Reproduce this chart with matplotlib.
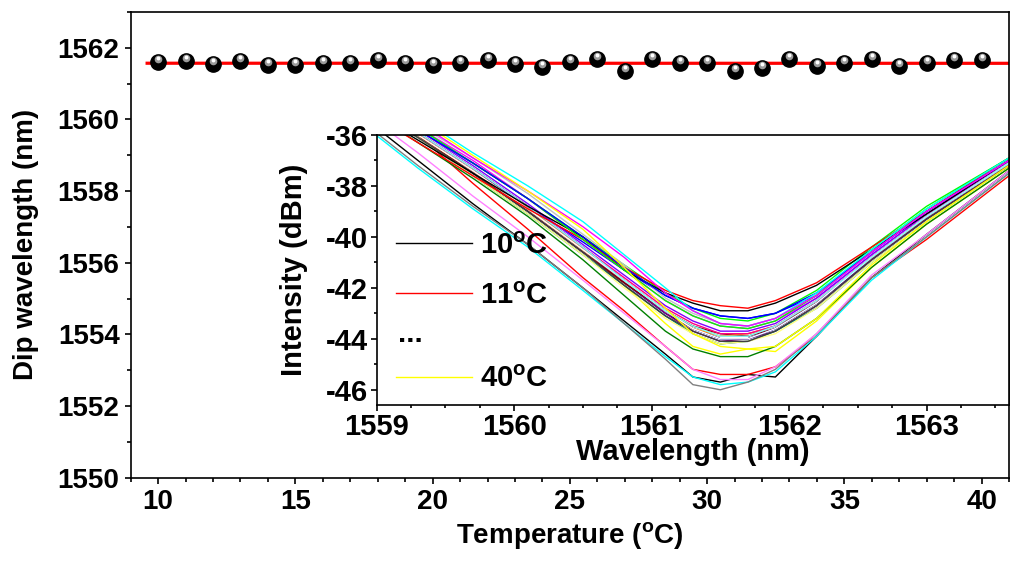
import matplotlib
matplotlib.use("Agg")
import matplotlib.pyplot as plt
import matplotlib.transforms as mtransforms
from matplotlib.lines import Line2D
from matplotlib.ticker import MultipleLocator
import numpy as np

plt.rcParams['font.family'] = ['Liberation Sans', 'DejaVu Sans']
plt.rcParams['font.weight'] = 'bold'
plt.rcParams['mathtext.fontset'] = 'custom'
plt.rcParams['mathtext.rm'] = 'Liberation Sans:bold'
plt.rcParams['mathtext.it'] = 'Liberation Sans:bold'
plt.rcParams['mathtext.bf'] = 'Liberation Sans:bold'
plt.rcParams['axes.unicode_minus'] = False

# dip wavelength vs temperature (main plot)
temps = list(range(10, 41))
dip_nm = [1561.61, 1561.62, 1561.54, 1561.63, 1561.51, 1561.52, 1561.57, 1561.57,
          1561.67, 1561.57, 1561.52, 1561.57, 1561.66, 1561.54, 1561.46, 1561.61,
          1561.68, 1561.36, 1561.68, 1561.57, 1561.57, 1561.36, 1561.45, 1561.68,
          1561.48, 1561.57, 1561.68, 1561.49, 1561.59, 1561.65, 1561.65]

# transmission spectra (inset), one row per temperature 10..40 C
wl = [1558.9, 1559.3, 1559.7, 1560.1, 1560.5, 1560.8, 1561.1, 1561.3,
      1561.5, 1561.7, 1561.9, 1562.2, 1562.6, 1563.0, 1563.6]
spectra_dbm = [
    [-35.3, -37.0, -38.7, -40.3, -42.0, -43.3, -44.6, -45.5, -45.7, -45.4, -45.5, -43.9, -41.6, -39.9, -37.4],  # 10
    [-34.8, -36.0, -37.9, -39.7, -41.6, -42.9, -44.3, -45.2, -45.4, -45.4, -45.1, -43.9, -41.6, -40.1, -37.6],  # 11
    [-34.5, -35.8, -37.1, -38.5, -40.0, -41.1, -42.2, -42.8, -43.2, -43.3, -43.0, -42.1, -40.4, -38.8, -36.9],  # 12
    [-34.7, -36.0, -37.4, -38.8, -40.2, -41.3, -42.3, -42.8, -43.1, -43.2, -43.0, -42.3, -40.6, -39.0, -37.0],  # 13
    [-35.6, -37.3, -38.9, -40.4, -42.1, -43.4, -44.7, -45.5, -45.8, -45.7, -45.3, -43.9, -41.7, -40.0, -37.5],  # 14
    [-34.4, -35.7, -37.0, -38.5, -40.1, -41.3, -42.5, -43.1, -43.5, -43.6, -43.3, -42.4, -40.7, -39.1, -37.1],  # 15
    [-34.6, -35.9, -37.3, -38.8, -40.5, -41.9, -43.4, -44.3, -44.6, -44.4, -44.5, -43.3, -41.2, -39.5, -37.3],  # 16
    [-34.7, -36.0, -37.4, -38.9, -40.5, -41.7, -42.9, -43.5, -43.9, -43.9, -43.5, -42.6, -40.8, -39.2, -37.1],  # 17
    [-34.8, -36.1, -37.5, -39.0, -40.6, -41.8, -43.0, -43.6, -44.0, -44.0, -43.6, -42.6, -40.9, -39.3, -37.2],  # 18
    [-34.6, -36.0, -37.4, -38.9, -40.5, -41.8, -43.0, -43.7, -44.1, -44.0, -43.7, -42.7, -40.9, -39.3, -37.2],  # 19
    [-34.7, -36.0, -37.5, -39.0, -40.6, -41.8, -42.9, -43.5, -43.8, -43.9, -43.6, -42.6, -40.8, -39.2, -37.1],  # 20
    [-34.9, -36.3, -37.7, -39.2, -40.9, -42.3, -43.7, -44.4, -44.7, -44.7, -44.3, -43.2, -41.2, -39.5, -37.3],  # 21
    [-34.8, -36.1, -37.6, -39.1, -40.7, -41.9, -43.1, -43.8, -44.2, -44.1, -43.7, -42.8, -41.0, -39.4, -37.2],  # 22
    [-34.6, -35.9, -37.3, -38.8, -40.4, -41.7, -42.9, -43.6, -44.0, -44.0, -43.6, -42.6, -40.8, -39.2, -37.1],  # 23
    [-34.7, -36.0, -37.4, -38.9, -40.5, -41.7, -42.9, -43.6, -43.9, -43.8, -43.5, -42.5, -40.8, -39.2, -37.1],  # 24
    [-34.5, -35.8, -37.2, -38.7, -40.3, -41.5, -42.7, -43.3, -43.7, -43.7, -43.4, -42.4, -40.7, -39.1, -37.0],  # 25
    [-34.6, -35.9, -37.3, -38.8, -40.4, -41.6, -42.8, -43.4, -43.8, -43.8, -43.5, -42.5, -40.8, -39.2, -37.1],  # 26
    [-34.7, -36.0, -37.4, -38.9, -40.5, -41.7, -42.9, -43.6, -44.0, -44.0, -43.6, -42.6, -40.8, -39.2, -37.1],  # 27
    [-34.3, -35.6, -36.9, -38.3, -39.9, -41.1, -42.4, -43.0, -43.4, -43.5, -43.2, -42.3, -40.6, -39.0, -37.0],  # 28
    [-35.5, -37.2, -38.8, -40.3, -42.0, -43.4, -44.8, -45.8, -46.0, -45.7, -45.2, -43.8, -41.6, -40.0, -37.5],  # 29
    [-34.8, -36.1, -37.6, -39.1, -40.7, -42.0, -43.2, -43.8, -44.2, -44.1, -43.8, -42.8, -41.0, -39.4, -37.2],  # 30
    [-34.6, -35.9, -37.3, -38.8, -40.4, -41.7, -42.9, -43.5, -43.9, -43.9, -43.5, -42.5, -40.8, -39.2, -37.1],  # 31
    [-35.1, -36.7, -38.4, -40.0, -41.7, -43.0, -44.3, -45.2, -45.6, -45.6, -45.1, -43.8, -41.5, -39.9, -37.4],  # 32
    [-34.8, -36.1, -37.5, -39.0, -40.6, -41.9, -43.1, -43.7, -44.1, -44.1, -43.7, -42.7, -40.9, -39.3, -37.2],  # 33
    [-34.9, -36.2, -37.5, -38.8, -40.0, -41.3, -42.2, -42.6, -42.9, -42.9, -42.6, -41.9, -40.5, -39.1, -37.0],  # 34
    [-35.0, -36.3, -37.6, -38.9, -40.1, -41.2, -42.1, -42.5, -42.7, -42.8, -42.5, -41.8, -40.4, -39.0, -36.9],  # 35
    [-34.4, -35.7, -37.1, -38.5, -40.1, -41.3, -42.5, -43.1, -43.5, -43.6, -43.3, -42.3, -40.5, -38.9, -36.9],  # 36
    [-34.5, -35.8, -37.1, -38.5, -40.0, -41.2, -42.3, -42.8, -43.1, -43.2, -43.0, -42.2, -40.6, -39.0, -37.0],  # 37
    [-34.0, -35.3, -36.7, -38.0, -39.4, -40.7, -42.0, -42.9, -43.4, -43.5, -43.2, -42.2, -40.5, -38.9, -36.9],  # 38
    [-34.2, -35.5, -36.9, -38.2, -39.6, -40.8, -42.2, -42.9, -43.4, -43.5, -43.2, -42.3, -40.6, -39.0, -37.0],  # 39
    [-34.1, -35.4, -36.8, -38.2, -39.7, -41.2, -42.8, -43.8, -44.3, -44.4, -44.3, -43.2, -41.1, -39.4, -37.2],  # 40
]

# Origin-style colour cycle
origin_colors = ['#000000', '#FF0000', '#00FF00', '#0000FF', '#00FFFF', '#FF00FF',
                 '#FFFF00', '#808000', '#000080', '#800080', '#800000', '#008000',
                 '#008080', '#0000A0', '#FF8000', '#8000FF', '#FF0080', '#FFFFFF',
                 '#C0C0C0', '#808080', '#FFFF80', '#80FFFF', '#FF80FF', '#404040']

fig = plt.figure(figsize=(10.24, 5.63), dpi=100)
ax = fig.add_axes([0.1276, 0.1515, 0.8578, 0.8272])

# linear fit line
coef = np.polyfit(temps, dip_nm, 1)
xfit = np.array([9.6, 41.5])
ax.plot(xfit, np.polyval(coef, xfit), color='red', lw=2.3, zorder=2)

# ball markers: dark body + highlight
ax.plot(temps, dip_nm, 'o', color='black', ms=11, zorder=3)
hl1 = mtransforms.offset_copy(ax.transData, fig=fig, x=0, y=3, units='dots')
hl2 = mtransforms.offset_copy(ax.transData, fig=fig, x=0, y=4, units='dots')
ax.plot(temps, dip_nm, 'o', color='#9a9a9a', ms=5.5, mew=0, transform=hl1, zorder=4)
ax.plot(temps, dip_nm, 'o', color='white', ms=2.8, mew=0, transform=hl2, zorder=5)

ax.set_xlim(9, 41)
ax.set_ylim(1550, 1563)
ax.set_xticks([10, 15, 20, 25, 30, 35, 40])
ax.set_yticks([1550, 1552, 1554, 1556, 1558, 1560, 1562])
ax.xaxis.set_minor_locator(MultipleLocator(1))
ax.yaxis.set_minor_locator(MultipleLocator(1))
ax.tick_params(which='both', direction='out', top=False, right=False, width=1.2)
ax.tick_params(which='major', length=4, labelsize=20, pad=4)
ax.tick_params(which='minor', length=3)
for s in ax.spines.values():
    s.set_linewidth(1.2)
ax.set_xlabel('Temperature ($^{\\mathrm{o}}$C)', fontsize=20, fontweight='bold')
ax.set_ylabel('Dip wavelength (nm)', fontsize=20, fontweight='bold')
ax.xaxis.set_label_coords(0.5, -0.09)
ax.yaxis.set_label_coords(-0.104, 0.5)

# inset: spectra
ax_in = fig.add_axes([0.3679, 0.2806, 0.6175, 0.4796])
for i, row in enumerate(spectra_dbm):
    ax_in.plot(wl, row, color=origin_colors[i % 24], lw=1.0)

ax_in.set_xlim(1559, 1563.6)
ax_in.set_ylim(-46.6, -36)
ax_in.set_xticks([1559, 1560, 1561, 1562, 1563])
ax_in.set_yticks([-46, -44, -42, -40, -38, -36])
ax_in.xaxis.set_minor_locator(MultipleLocator(0.25))
ax_in.yaxis.set_minor_locator(MultipleLocator(1))
ax_in.tick_params(which='both', direction='out', top=False, right=False, width=1.2)
ax_in.tick_params(which='major', length=4.5, labelsize=21)
ax_in.tick_params(axis='y', which='major', pad=2)
ax_in.tick_params(axis='x', which='major', pad=1)
ax_in.tick_params(which='minor', length=2.5)
for s in ax_in.spines.values():
    s.set_linewidth(1.2)
ax_in.set_xlabel('Wavelength (nm)', fontsize=21, fontweight='bold')
ax_in.set_ylabel('Intensity (dBm)', fontsize=21, fontweight='bold')
ax_in.xaxis.set_label_coords(0.5, -0.122)
ax_in.yaxis.set_label_coords(-0.109, 0.5)

# legend: first two temperatures, dots, last temperature
leg_kw = dict(loc='upper left', frameon=False, fontsize=21, handlelength=2.6,
              handletextpad=0.3, borderpad=0, borderaxespad=0, labelspacing=0.75)
leg1 = ax_in.legend([Line2D([], [], color=origin_colors[0], lw=1.0),
                     Line2D([], [], color=origin_colors[1], lw=1.0)],
                    ['%d$^{\\mathrm{o}}$C' % temps[0], '%d$^{\\mathrm{o}}$C' % temps[1]],
                    bbox_to_anchor=(0.03, 0.642), **leg_kw)
ax_in.add_artist(leg1)
ax_in.legend([Line2D([], [], color=origin_colors[(len(temps) - 1) % 24], lw=1.0)],
             ['%d$^{\\mathrm{o}}$C' % temps[-1]],
             bbox_to_anchor=(0.03, 0.148), **leg_kw)
ax_in.text(0.034, 0.233, '...', transform=ax_in.transAxes, fontsize=21,
           fontweight='bold', va='baseline', ha='left')

fig.savefig('out.png', dpi=100)
